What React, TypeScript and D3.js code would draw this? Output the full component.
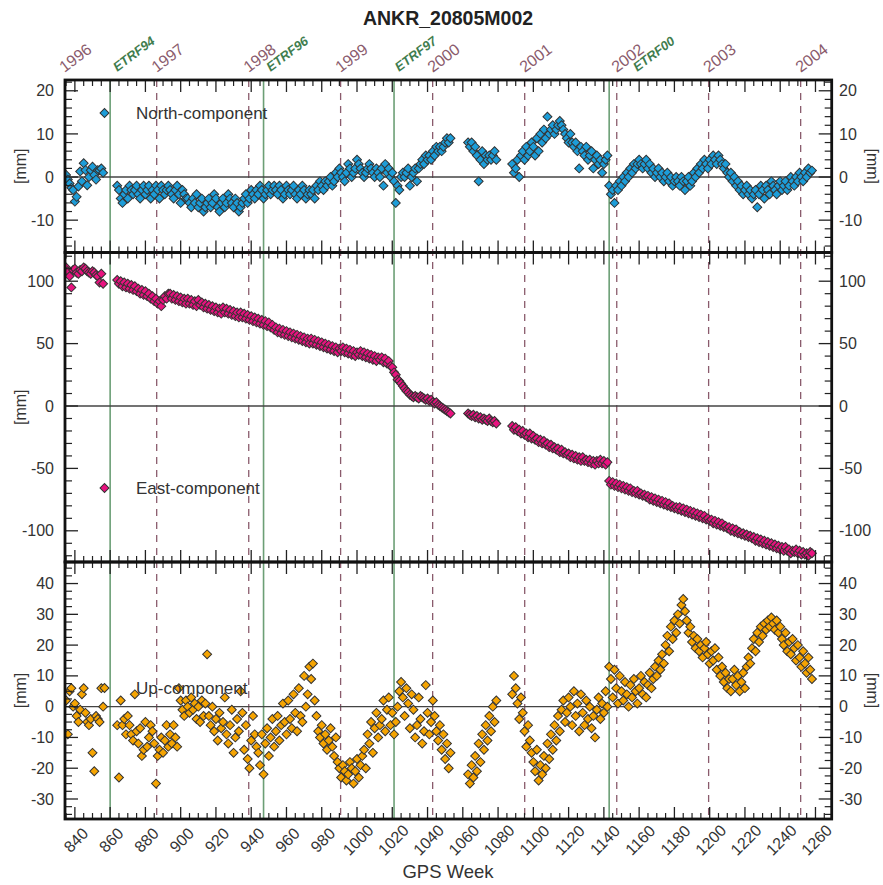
import React from 'react';
import * as d3 from 'd3';

const W = 883;
const H = 885;
const FONT = "'Liberation Sans', Arial, Helvetica, sans-serif";

// ---------- DATA ----------
const titleText = 'ANKR_20805M002';
const xAxisTitle = 'GPS Week';
const yearLabels = ['1996', '1997', '1998', '1999', '2000', '2001', '2002', '2003', '2004'];
const yearWeeks = [834.1, 886.4, 938.6, 990.7, 1042.9, 1095.1, 1147.3, 1199.4, 1251.6];
const etrfLabels = ['ETRF94', 'ETRF96', 'ETRF97', 'ETRF00'];
const etrfWeeks = [860, 947, 1021, 1143];
const xTickLabels = [840, 860, 880, 900, 920, 940, 960, 980, 1000, 1020, 1040, 1060, 1080, 1100, 1120, 1140, 1160, 1180, 1200, 1220, 1240, 1260];

// each segment: [first GPS week, weekly values in mm]
const northSegments: [number, number[]][] = [
  [835, [0.5, -0.6, -1.5, -2.5, -3, -5.7, -4.6, -2.2, 1.3, -1]],
  [845, [3.2, 1.6, -1.9, 0, 1.6, 2.4, 0.5, -0.6, 1.6, 1.6, 2, 1]],
  [864, [-2, -3, -5, -6, -4, -3, -5, -2, -3, -4]],
  [874, [-3, -2, -4, -5, -3, -2, -4, -3, -2, -5]],
  [884, [-3, -4, -2, -3, -5, -2, -3, -4, -3, -2]],
  [894, [-3, -4, -5, -3, -2, -4, -6, -3, -4, -5]],
  [904, [-5, -6, -7, -5, -6, -4, -7, -6, -5, -8]],
  [914, [-7, -6, -5, -7, -6, -4, -5, -7, -8, -6]],
  [924, [-5, -7, -6, -4, -5, -6, -7, -5, -6, -8]],
  [934, [-7, -6, -5, -4, -6, -5, -3, -4, -5, -3]],
  [944, [-4, -2, -3, -5, -4, -3, -2, -4, -3, -2]],
  [954, [-3, -4, -2, -3, -5, -4, -2, -3, -4, -3]],
  [964, [-2, -4, -5, -3, -4, -2, -3, -5, -4, -3]],
  [974, [-4, -3, -5, -2, -3, -1, -2, -3, -1, -2]],
  [984, [-1, 0, -2, -1, 1, 0, 2, 1, 0, -1]],
  [994, [1, 3, 2, 0, 1, 2, 4, 3, 2, 1]],
  [1004, [0, 1, 2, 3, 2, 1, 0, 2, 1, 0]],
  [1014, [2, -2, 3, 1, 2, 0, 1, -1, -6, -2]],
  [1024, [-3, 0, 1, 0, 1, 2, -2, 0, 1, 2]],
  [1034, [-1, 2, 3, 4, 3, 5, 4, 5, 4, 6]],
  [1044, [5, 7, 6, 7, 6, 7, 8, 9, 8, 9]],
  [1063, [8, 7, 8, 6, 7, 5, -1, 4, 6, 3]],
  [1073, [5, 4, 5, 4, 5, 6, 4]],
  [1088, [3, 1, 2, 4, 0, 5, 6, 4, 7, 5]],
  [1098, [6, 8, 7, 5, 9, 6, 10, 8, 11, 9]],
  [1108, [14, 10, 11, 12, 10, 11, 12, 13, 12, 11]],
  [1118, [10, 9, 8, 10, 8, 7, 8, 6, 2, 7]],
  [1128, [6, 5, 7, 4, 5, 6, 2, 4, 5, 3, 4, 1, 3, 4, 5]],
  [1143, [-2, -4, -3, -6, -2, -3, -1, -2, 0, -1]],
  [1153, [1, 0, 2, 1, 3, 2, 3, 4, 3, 2]],
  [1163, [3, 4, 2, 3, 1, 2, 0, 1, 2, 0]],
  [1173, [1, -1, 0, 1, -1, 0, -2, -1, 0, -1]],
  [1183, [-2, 0, -1, -3, -1, 0, -2, -1, 1, 0]],
  [1193, [2, 1, 3, 2, 4, 3, 2, 4, 3, 5]],
  [1203, [4, 3, 5, 4, 3, 2, 3, 1, 0, 1]],
  [1213, [-1, 0, -2, -1, -3, -2, -4, -3, -2, -4]],
  [1223, [-3, -5, -4, -3, -7, -4, -2, -3, -5, -2]],
  [1233, [-3, -4, -1, -2, -3, -4, -2, -1, -3, -2]],
  [1243, [-1, -3, -2, 0, -1, -2, 0, -1, 1, 0]],
  [1253, [-1, 1, 0, 2, 1, 1.5]],
];

const eastSegments: [number, number[]][] = [
  [835, [111, 108, 104, 95, 109, 110, 107, 106, 109, 108, 111, 110, 108, 107, 106, 108, 107, 105, 104, 99, 106, 98]],
  [864, [101, 98, 100, 96, 99, 95, 98, 94, 97, 93]],
  [874, [96, 92, 94, 90, 93, 89, 92, 88, 90, 86]],
  [884, [88, 84, 86, 82, 84, 80, 85, 88, 86, 90]],
  [894, [90, 86, 89, 85, 88, 84, 87, 83, 86, 82]],
  [904, [86, 82, 85, 81, 84, 80, 85, 81, 83, 79]],
  [914, [82, 78, 81, 77, 80, 76, 79, 75, 78, 74]],
  [924, [79, 75, 78, 74, 77, 73, 76, 72, 75, 71]],
  [934, [75, 71, 74, 70, 73, 69, 72, 68, 71, 67]],
  [944, [70, 66, 69, 65, 68, 64, 67, 63, 65, 61]],
  [954, [63, 59, 62, 58, 61, 57, 60, 56, 59, 55]],
  [964, [58, 54, 57, 53, 56, 52, 55, 51, 54, 50]],
  [974, [54, 50, 53, 49, 52, 48, 51, 47, 50, 46]],
  [984, [49, 45, 48, 44, 47, 43, 46, 44, 47, 43]],
  [994, [46, 42, 45, 41, 44, 40, 43, 41, 44, 40]],
  [1004, [43, 39, 42, 38, 41, 37, 40, 36, 39, 37]],
  [1014, [39, 35, 38, 34, 36, 32, 31, 27, 25, 21]],
  [1024, [20, 18, 16, 14, 12, 11, 9, 8, 7, 8]],
  [1034, [7, 6, 8, 7, 6, 5, 6, 4, 5, 3]],
  [1044, [2, 3, 1, 0, -1, -2, -3, -4, -5, -6]],
  [1063, [-6, -7, -8, -7, -9, -8, -10, -9, -11, -10]],
  [1073, [-11, -12, -10, -12, -13, -12, -14]],
  [1088, [-16, -19, -17, -20, -19, -22, -20, -23, -22, -25]],
  [1098, [-22, -26, -24, -27, -26, -29, -27, -30, -28, -31]],
  [1108, [-30, -33, -31, -34, -33, -35, -34, -37, -35, -38]],
  [1118, [-37, -39, -38, -41, -39, -42, -40, -43, -41, -44]],
  [1128, [-41, -44, -43, -45, -43, -46, -44, -47, -44, -46, -43, -46, -44, -47, -45]],
  [1143, [-60, -63, -61, -64, -62, -65, -63, -66, -64, -67]],
  [1153, [-65, -68, -66, -69, -68, -70, -68, -71, -70, -72]],
  [1163, [-71, -73, -72, -75, -73, -76, -74, -77, -75, -78]],
  [1173, [-76, -79, -77, -80, -78, -81, -80, -82, -81, -83]],
  [1183, [-81, -84, -82, -85, -83, -86, -84, -87, -85, -88]],
  [1193, [-86, -89, -87, -90, -88, -91, -90, -92, -91, -94]],
  [1203, [-92, -95, -93, -96, -94, -97, -96, -98, -97, -100]],
  [1213, [-98, -101, -99, -102, -101, -103, -102, -104, -103, -105]],
  [1223, [-104, -106, -105, -108, -106, -109, -107, -110, -108, -111]],
  [1233, [-109, -112, -110, -113, -111, -114, -112, -115, -113, -116]],
  [1243, [-113, -116, -115, -118, -116, -117, -115, -118, -116, -119]],
  [1253, [-117, -119, -118, -120, -117, -118]],
];

const upSegments: [number, number[]][] = [
  [835, [2, -9, 5, 6, 0, 1, -3, -5, -1, 4]],
  [845, [6, -2, -5, -6, -4, -15, -21, -3, -4, -5, 6, 0]],
  [864, [-6, -23, 2, -6, -4, -9, -3, -6, -9, -11]],
  [874, [4, -8, -12, -7, -16, -14, -5, -13, -10, -6]],
  [884, [-8, -12, -25, -16, -14, -10, -15, -11, -6, -13]],
  [894, [-9, -12, -6, -10, -13, 6, 2, -1, -3, 2]],
  [904, [0, -2, 3, -1, 1, -4, 0, -5, 2, -3]],
  [914, [1, 17, -3, -6, 0, -8, -4, -11, -2, -7]],
  [924, [-5, 3, -9, -12, -6, -1, -15, -10, -4, -8]],
  [934, [5, -2, -14, -6, -17, -20, -11, -3, -9, -13]],
  [944, [-15, -19, -9, -22, -12, -7, -16, -10, -4, -13]],
  [954, [-8, -3, -11, -6, 1, -5, -9, 2, -4, -7]],
  [964, [4, -2, -8, 6, -3, -5, 10, 0, 4, 13]],
  [974, [9, 14, 2, -3, -8, -10, -6, -12, -9, -14]],
  [984, [-11, -7, -13, -16, -10, -18, -20, -23, -19, -21]],
  [994, [-24, -22, -18, -20, -25, -21, -17, -23, -19, -16]],
  [1004, [-14, -20, -9, -12, -5, -15, -7, -2, -10, -6]],
  [1014, [-4, 2, -8, -1, 3, -6, -2, -9, -5, 0]],
  [1024, [5, 8, 3, -3, 6, 1, -7, 4, -1, -10]],
  [1034, [-6, 3, -4, -12, -8, 7, -2, -9, -5, 2]],
  [1044, [-3, -8, -11, -6, -14, -9, -17, -12, -20, -15]],
  [1063, [-22, -25, -19, -23, -16, -21, -12, -18, -9, -14]],
  [1073, [-6, -11, -3, -8, 0, -5, 2]],
  [1088, [4, 10, 6, 1, -4, 3, -2, -8, -13, -6]],
  [1098, [-11, -15, -18, -21, -14, -24, -19, -22, -16, -20]],
  [1108, [-12, -17, -9, -14, -6, -11, -3, -8, -1, 2]],
  [1118, [-5, -2, 3, 0, -6, 5, -3, 1, -8, 4]],
  [1128, [-2, -6, 2, -4, 0, -7, -3, -10, -1, 3, -4, 1, -2, 5, 0]],
  [1143, [13, 9, 3, 12, 6, 1, 10, 5, 2, 8]],
  [1153, [4, 0, 7, 3, 9, 5, 1, 6, 10, 4]],
  [1163, [8, 3, 7, 11, 6, 9, 13, 10, 15, 12]],
  [1173, [17, 14, 20, 23, 18, 26, 22, 28, 24, 30]],
  [1183, [27, 33, 35, 31, 28, 24, 26, 21, 23, 19]],
  [1193, [22, 18, 20, 16, 19, 21, 17, 14, 18, 15]],
  [1203, [19, 12, 16, 10, 13, 8, 11, 6, 9, 5]],
  [1213, [9, 12, 7, 10, 5, 8, 11, 6, 13, 16]],
  [1223, [14, 19, 22, 18, 24, 21, 26, 23, 27, 25]],
  [1233, [28, 26, 29, 27, 25, 28, 24, 26, 22, 20]],
  [1243, [24, 18, 21, 17, 22, 19, 15, 20, 16, 13]],
  [1253, [18, 14, 11, 16, 12, 9]],
];

// ---------- LAYOUT ----------
const X0 = 65;
const X1 = 831.7;
const xScale = d3.scaleLinear().domain([834.4, 1269.2]).range([X0, X1]);

type Panel = {
  name: string;
  top: number;
  bottom: number;
  domain: [number, number];
  majors: number[];
  minor: number;
  color: string;
  segs: [number, number[]][];
  legendY: number;
  rightUnit: boolean;
};

const panels: Panel[] = [
  { name: 'North-component', top: 80, bottom: 252.5, domain: [-17.5, 22.5], majors: [-10, 0, 10, 20], minor: 2, color: '#1d9dd8', segs: northSegments, legendY: 113, rightUnit: true },
  { name: 'East-component', top: 252.5, bottom: 562, domain: [-125, 123], majors: [-100, -50, 0, 50, 100], minor: 10, color: '#e8137f', segs: eastSegments, legendY: 488, rightUnit: false },
  { name: 'Up-component', top: 562, bottom: 819, domain: [-36.5, 47], majors: [-30, -20, -10, 0, 10, 20, 30, 40], minor: 2.5, color: '#f5a402', segs: upSegments, legendY: 688, rightUnit: true },
];

// horizontal shift of the ETRF label so it does not collide with a year label
const etrfLabelShift = [7, 7, 5, 28];

const diamond = d3.symbol().type(d3.symbolSquare).size(40)() as string;

const YEAR_COLOR = '#8a5b6c';
const ETRF_COLOR = '#3f7d4e';
const ETRF_LINE = '#6c9f76';
const TEXT = '#333';

function PanelView({ p, idx, last }: { p: Panel; idx: number; last: boolean }) {
  const y = d3.scaleLinear().domain(p.domain).range([p.bottom, p.top]);
  const pts = p.segs.flatMap(([start, vals]) => vals.map((v, i) => ({ w: start + i, v })));
  const minors: number[] = [];
  for (let v = Math.ceil(p.domain[0] / p.minor) * p.minor; v <= p.domain[1]; v += p.minor) {
    if (!p.majors.some((m) => Math.abs(m - v) < 1e-6)) minors.push(v);
  }
  const xMajors = d3.range(840, 1269, 20);
  const xMinors = d3.range(835, 1269, 5).filter((w) => (w - 840) % 20 !== 0);
  const clipId = `clip${idx}`;
  const midY = (p.top + p.bottom) / 2;
  return (
    <g>
      <defs>
        <clipPath id={clipId}>
          <rect x={X0} y={p.top} width={X1 - X0} height={p.bottom - p.top} />
        </clipPath>
      </defs>
      <line x1={X0} x2={X1} y1={y(0)} y2={y(0)} stroke="#444" strokeWidth={1.4} />
      <g clipPath={`url(#${clipId})`}>
        {pts.map((d, i) => (
          <path
            key={i}
            d={diamond}
            transform={`translate(${xScale(d.w)},${y(d.v)}) rotate(45)`}
            fill={p.color}
            stroke="#333"
            strokeWidth={1}
          />
        ))}
      </g>
      <path d={diamond} transform={`translate(104.5,${p.legendY}) rotate(45)`} fill={p.color} stroke="#333" strokeWidth={1} />
      <text x={136} y={p.legendY + 6} fontSize={17} fill={TEXT} fontFamily={FONT}>
        {p.name}
      </text>
      {p.majors.map((m) => (
        <g key={`M${m}`}>
          <line x1={X0} x2={X0 + 13} y1={y(m)} y2={y(m)} stroke="#222" strokeWidth={1.3} />
          <line x1={X1} x2={X1 - 13} y1={y(m)} y2={y(m)} stroke="#222" strokeWidth={1.3} />
          <text x={54} y={y(m)} dy="0.35em" textAnchor="end" fontSize={16} fill={TEXT} fontFamily={FONT}>
            {m}
          </text>
          <text x={839} y={y(m)} dy="0.35em" textAnchor="start" fontSize={16} fill={TEXT} fontFamily={FONT}>
            {m}
          </text>
        </g>
      ))}
      {minors.map((m) => (
        <g key={`m${m}`}>
          <line x1={X0} x2={X0 + 7} y1={y(m)} y2={y(m)} stroke="#222" strokeWidth={1.2} />
          <line x1={X1} x2={X1 - 7} y1={y(m)} y2={y(m)} stroke="#222" strokeWidth={1.2} />
        </g>
      ))}
      {xMajors.map((w) => (
        <g key={`xM${w}`}>
          <line x1={xScale(w)} x2={xScale(w)} y1={p.top} y2={p.top + 12} stroke="#222" strokeWidth={1.3} />
          <line x1={xScale(w)} x2={xScale(w)} y1={p.bottom} y2={p.bottom - 12} stroke="#222" strokeWidth={1.3} />
        </g>
      ))}
      {xMinors.map((w) => (
        <g key={`xm${w}`}>
          <line x1={xScale(w)} x2={xScale(w)} y1={p.top} y2={p.top + 6} stroke="#222" strokeWidth={1.2} />
          <line x1={xScale(w)} x2={xScale(w)} y1={p.bottom} y2={p.bottom - 6} stroke="#222" strokeWidth={1.2} />
        </g>
      ))}
      <text transform={`translate(26,${midY}) rotate(-90)`} textAnchor="middle" fontSize={16} fill={TEXT} fontFamily={FONT}>
        [mm]
      </text>
      {p.rightUnit && (
        <text transform={`translate(867,${midY}) rotate(90)`} textAnchor="middle" fontSize={16} fill={TEXT} fontFamily={FONT}>
          [mm]
        </text>
      )}
      {last &&
        xTickLabels.map((w) => (
          <text
            key={`xl${w}`}
            transform={`translate(${xScale(w) + 5},844) rotate(-45)`}
            textAnchor="middle"
            fontSize={16}
            fill={TEXT}
            fontFamily={FONT}
          >
            {w}
          </text>
        ))}
    </g>
  );
}

export default function App() {
  const top = panels[0].top;
  const bottom = panels[panels.length - 1].bottom;
  return (
    <svg
      width={W}
      height={H}
      style={{ position: 'absolute', left: 0, top: 0, display: 'block', background: '#fff' }}
    >
      <rect x={0} y={0} width={W} height={H} fill="#fff" />
      <text x={448} y={25} textAnchor="middle" fontSize={19.5} fontWeight="bold" fill="#222" fontFamily={FONT}>
        {titleText}
      </text>
      {yearWeeks.map((w, i) => (
        <g key={`y${i}`}>
          {xScale(w) > X0 + 1 && (
            <line x1={xScale(w)} x2={xScale(w)} y1={top} y2={bottom} stroke={YEAR_COLOR} strokeWidth={1.3} strokeDasharray="7,6" />
          )}
          <text transform={`translate(${xScale(w)},73) rotate(-37)`} fontSize={16} fill={YEAR_COLOR} fontFamily={FONT}>
            {yearLabels[i]}
          </text>
        </g>
      ))}
      {etrfWeeks.map((w, i) => (
        <g key={`e${i}`}>
          <line x1={xScale(w)} x2={xScale(w)} y1={top} y2={bottom} stroke={ETRF_LINE} strokeWidth={1.6} />
          <text
            transform={`translate(${xScale(w) + etrfLabelShift[i]},72) rotate(-37)`}
            fontSize={13}
            fontStyle="italic"
            fontWeight="bold"
            fill={ETRF_COLOR}
            fontFamily={FONT}
          >
            {etrfLabels[i]}
          </text>
        </g>
      ))}
      {panels.map((p, i) => (
        <PanelView key={p.name} p={p} idx={i} last={i === panels.length - 1} />
      ))}
      {panels.map((p) => (
        <rect key={`f${p.name}`} x={X0} y={p.top} width={X1 - X0} height={p.bottom - p.top} fill="none" stroke="#111" strokeWidth={2.8} />
      ))}
      <text x={448} y={878} textAnchor="middle" fontSize={18.5} fill={TEXT} fontFamily={FONT}>
        {xAxisTitle}
      </text>
    </svg>
  );
}
